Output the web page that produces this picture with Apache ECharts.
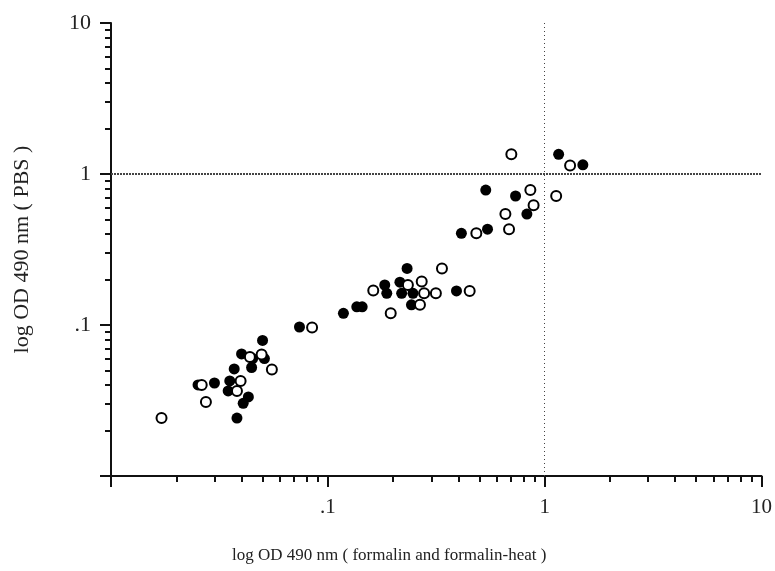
<!DOCTYPE html>
<html>
<head>
<meta charset="utf-8">
<script src="https://cdn.jsdelivr.net/npm/echarts@6/dist/echarts.min.js"></script>
<style>
  html, body { margin: 0; padding: 0; background: #fff; }
  #chart { width: 775px; height: 571px; }
</style>
</head>
<body>
<div id="chart"></div>
<script>
// axis ticks (log scale, 0.01 .. 10)
const majorTicks = [0.01, 0.1, 1, 10]
const minorTicks = [0.02, 0.03, 0.04, 0.05, 0.06, 0.07, 0.08, 0.09,
  0.2, 0.3, 0.4, 0.5, 0.6, 0.7, 0.8, 0.9,
  2, 3, 4, 5, 6, 7, 8, 9]
const tickLabels = [0.1, 1, 10]

// filled circles
const filledX = [1.16, 1.50, 0.535, 0.734, 0.828, 0.413, 0.545, 0.232, 0.183, 0.187,
  0.215, 0.219, 0.247, 0.243, 0.392, 0.118, 0.136, 0.144, 0.074, 0.050,
  0.040, 0.045, 0.051, 0.037, 0.0445, 0.0353, 0.030, 0.0252, 0.0347, 0.043,
  0.0407, 0.0381]
const filledY = [1.35, 1.15, 0.783, 0.715, 0.543, 0.405, 0.431, 0.237, 0.184, 0.162,
  0.192, 0.162, 0.162, 0.136, 0.168, 0.1195, 0.132, 0.132, 0.097, 0.079,
  0.0643, 0.0599, 0.0599, 0.0512, 0.0523, 0.0426, 0.0413, 0.0401, 0.0366, 0.0334,
  0.0303, 0.0242]

// open circles
const openX = [0.702, 1.31, 0.859, 1.13, 0.889, 0.659, 0.484, 0.685, 0.336, 0.162,
  0.234, 0.271, 0.278, 0.315, 0.266, 0.195, 0.451, 0.0846, 0.0495, 0.0437,
  0.0552, 0.0262, 0.0396, 0.0381, 0.0274, 0.0171]
const openY = [1.35, 1.14, 0.783, 0.715, 0.621, 0.543, 0.405, 0.431, 0.237, 0.169,
  0.184, 0.194, 0.162, 0.162, 0.136, 0.1195, 0.168, 0.0963, 0.0638, 0.0614,
  0.0507, 0.0401, 0.0426, 0.0366, 0.0309, 0.0242]

const font = 'Liberation Serif'
const ink = '#111'

function fmt(v) {
  return v < 0.5 ? '.1' : String(Math.round(v))
}

function majorAxis(extra) {
  return Object.assign({
    type: 'log',
    logBase: 10,
    min: 0.01,
    max: 10,
    axisLine: { show: true, lineStyle: { color: ink, width: 2 } },
    axisTick: { show: true, customValues: majorTicks, length: 11, lineStyle: { color: ink, width: 2 } },
    axisLabel: {
      customValues: tickLabels,
      formatter: fmt,
      margin: 20,
      fontFamily: font,
      fontSize: 22,
      color: '#222'
    },
    splitLine: { show: false }
  }, extra)
}

function minorAxis(pos) {
  return {
    type: 'log',
    logBase: 10,
    min: 0.01,
    max: 10,
    position: pos,
    axisLine: { show: false },
    axisTick: { show: true, customValues: minorTicks, length: 6, lineStyle: { color: ink, width: 2 } },
    axisLabel: { show: false },
    splitLine: { show: false }
  }
}

const chart = echarts.init(document.getElementById('chart'))

chart.setOption({
  animation: false,
  backgroundColor: '#fff',
  grid: { left: 111, right: 13, top: 23, bottom: 95 },
  xAxis: [
    majorAxis({
      position: 'bottom',
      name: 'log OD 490 nm ( formalin and formalin-heat )',
      nameLocation: 'middle',
      nameGap: 71,
      nameTextStyle: { fontFamily: font, fontSize: 17, color: '#222', padding: [0, 94, 0, 0] },
      axisLabel: {
        customValues: tickLabels, formatter: fmt, margin: 21,
        fontFamily: font, fontSize: 21, color: '#222'
      }
    }),
    minorAxis('bottom')
  ],
  yAxis: [
    majorAxis({
      position: 'left',
      name: 'log OD 490 nm ( PBS )',
      nameLocation: 'middle',
      nameGap: 78,
      nameRotate: 90,
      nameTextStyle: { fontFamily: font, fontSize: 22, color: '#222' }
    }),
    minorAxis('left')
  ],
  series: [
    {
      name: 'filled',
      type: 'scatter',
      symbol: 'circle',
      symbolSize: 11,
      itemStyle: { color: '#000', opacity: 1 },
      data: filledX.map((x, i) => [x, filledY[i]]),
      markLine: {
        silent: true,
        symbol: 'none',
        label: { show: false },
        data: [
          { yAxis: 1, lineStyle: { color: '#444', width: 2, type: [2, 1] } },
          { xAxis: 1, lineStyle: { color: '#444', width: 1, type: [1, 3] } }
        ]
      }
    },
    {
      name: 'open',
      type: 'scatter',
      symbol: 'circle',
      symbolSize: 10,
      itemStyle: { color: '#fff', borderColor: '#000', borderWidth: 2, opacity: 1 },
      data: openX.map((x, i) => [x, openY[i]])
    }
  ]
})
</script>
</body>
</html>
